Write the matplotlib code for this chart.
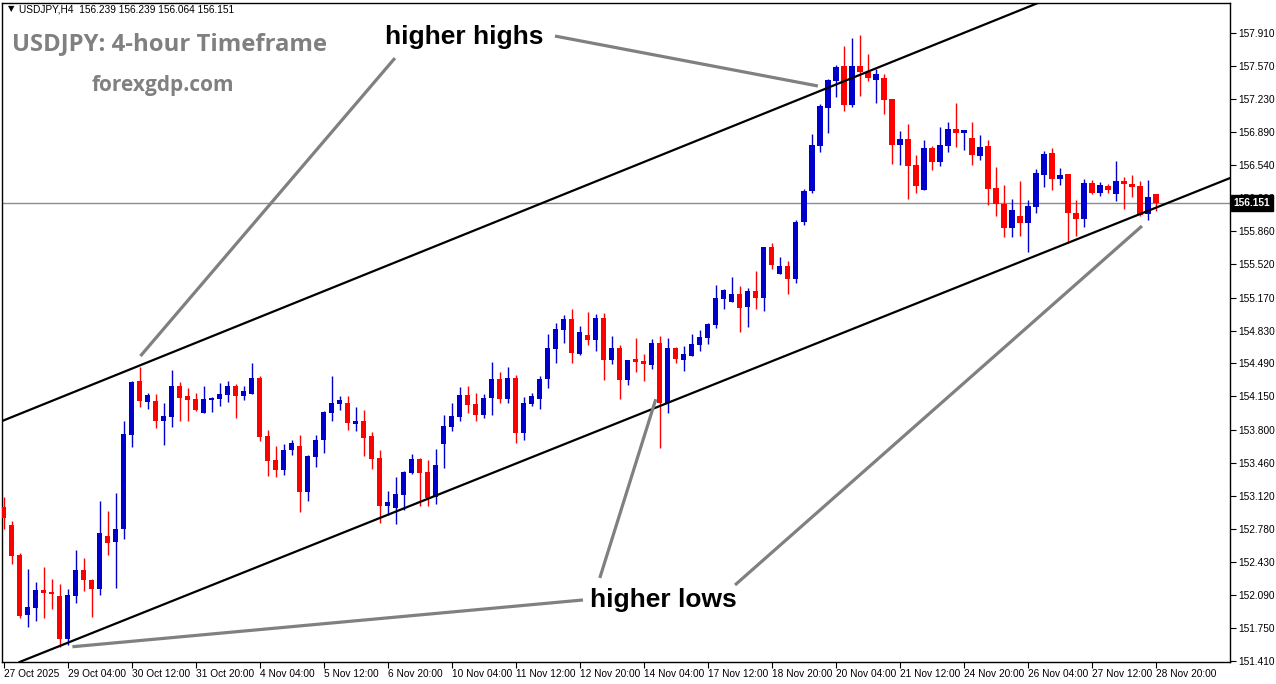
import numpy as np
import matplotlib
matplotlib.use("Agg")
import matplotlib.pyplot as plt

# USDJPY H4 candles (index 0 = first bar)
opens = [
    153.005, 152.818, 152.508, 151.887, 151.959, 152.145, 152.125, 152.083, 151.638, 152.083,
    152.352, 152.249, 152.156, 152.704, 152.642, 152.777, 153.750, 154.308, 154.091, 154.102,
    153.895, 153.936, 154.257, 154.153, 154.122, 153.977, 154.112, 154.122, 154.164, 154.257,
    154.153, 154.174, 154.340, 153.739, 153.491, 153.387, 153.594, 153.636, 153.160, 153.522,
    153.698, 153.977, 154.071, 154.081, 153.864, 153.895, 153.739, 153.512, 153.015, 152.994,
    153.129, 153.356, 153.501, 153.367, 153.108, 153.657, 153.833, 153.936, 154.164, 154.071,
    153.957, 154.133, 154.329, 154.122, 154.340, 153.770, 154.071, 154.122, 154.329, 154.640,
    154.836, 154.950, 154.588, 154.785, 154.733, 154.961, 154.526, 154.650, 154.319, 154.536,
    154.516, 154.474, 154.702, 154.081, 154.650, 154.526, 154.567, 154.681, 154.754, 154.888,
    155.157, 155.126, 155.209, 155.074, 155.240, 155.168, 155.696, 155.416, 155.499, 155.364,
    155.954, 156.275, 156.741, 157.134, 157.414, 157.569, 157.165, 157.569, 157.507, 157.424,
    157.445, 157.227, 156.751, 156.813, 156.544, 156.285, 156.720, 156.575, 156.741, 156.917,
    156.875, 156.824, 156.637, 156.741, 156.306, 156.140, 155.892, 156.016, 155.943, 156.109,
    156.440, 156.668, 156.399, 156.451, 156.047, 155.985, 156.358, 156.254, 156.327, 156.244,
    156.379, 156.347, 156.327, 156.037, 156.239]
highs = [
    153.108, 152.860, 152.528, 152.363, 152.228, 152.384, 152.259, 152.208, 152.156, 152.559,
    152.477, 152.259, 153.067, 152.963, 153.149, 153.895, 154.308, 154.454, 154.184, 154.174,
    154.081, 154.422, 154.298, 154.236, 154.184, 154.257, 154.143, 154.288, 154.308, 154.278,
    154.257, 154.495, 154.360, 153.801, 153.636, 153.657, 153.698, 153.750, 153.543, 153.750,
    153.998, 154.360, 154.153, 154.153, 154.040, 154.008, 153.781, 153.594, 153.170, 153.315,
    153.377, 153.553, 153.512, 153.491, 153.605, 153.957, 154.081, 154.247, 154.257, 154.184,
    154.174, 154.505, 154.402, 154.454, 154.371, 154.143, 154.184, 154.360, 154.795, 154.909,
    154.992, 155.054, 154.878, 155.023, 155.002, 155.012, 154.774, 154.681, 154.526, 154.754,
    154.588, 154.743, 154.774, 154.754, 154.660, 154.671, 154.795, 154.836, 154.909, 155.302,
    155.261, 155.385, 155.292, 155.271, 155.447, 155.696, 155.737, 155.592, 155.551, 155.975,
    156.296, 156.865, 157.175, 157.434, 157.579, 157.776, 157.859, 157.890, 157.693, 157.538,
    157.486, 157.227, 156.896, 156.968, 156.648, 156.803, 156.741, 156.937, 156.989, 157.186,
    156.906, 156.989, 156.855, 156.803, 156.523, 156.337, 156.192, 156.379, 156.182, 156.503,
    156.689, 156.720, 156.513, 156.451, 156.182, 156.399, 156.389, 156.368, 156.347, 156.585,
    156.420, 156.440, 156.379, 156.389, 156.239]
lows = [
    152.777, 152.415, 151.856, 151.763, 151.825, 151.856, 151.949, 151.556, 151.576, 152.011,
    152.135, 151.866, 152.094, 152.508, 152.166, 152.673, 153.626, 154.040, 154.019, 153.822,
    153.646, 153.833, 153.895, 153.895, 153.998, 153.977, 153.988, 154.050, 154.091, 153.926,
    154.112, 154.174, 153.688, 153.325, 153.315, 153.336, 153.543, 152.953, 153.067, 153.419,
    153.563, 153.895, 154.008, 153.801, 153.791, 153.532, 153.398, 152.839, 152.922, 152.829,
    152.973, 153.346, 153.015, 153.015, 153.036, 153.408, 153.791, 153.895, 153.977, 153.895,
    153.926, 153.957, 154.081, 154.081, 153.667, 153.698, 154.050, 154.019, 154.236, 154.495,
    154.702, 154.495, 154.578, 154.681, 154.619, 154.319, 154.485, 154.122, 154.267, 154.402,
    154.308, 154.433, 153.615, 153.977, 154.495, 154.412, 154.567, 154.619, 154.691, 154.857,
    155.054, 155.126, 154.816, 154.867, 155.054, 155.033, 155.468, 155.416, 155.209, 155.323,
    155.923, 156.254, 156.679, 156.875, 157.248, 157.103, 157.144, 157.258, 157.414, 157.186,
    157.072, 156.554, 156.544, 156.192, 156.254, 156.285, 156.492, 156.534, 156.679, 156.730,
    156.699, 156.544, 156.596, 156.130, 156.016, 155.798, 155.798, 155.809, 155.643, 156.047,
    156.316, 156.285, 156.337, 155.736, 155.809, 155.902, 156.244, 156.223, 156.254, 156.171,
    156.089, 156.213, 156.016, 155.975, 156.064]
closes = [
    152.890, 152.497, 151.876, 151.970, 152.145, 152.114, 152.104, 151.638, 152.094, 152.352,
    152.249, 152.156, 152.735, 152.632, 152.777, 153.760, 154.298, 154.102, 154.164, 153.895,
    153.946, 154.257, 154.133, 154.112, 154.008, 154.122, 154.133, 154.174, 154.257, 154.153,
    154.205, 154.340, 153.729, 153.481, 153.387, 153.594, 153.667, 153.160, 153.532, 153.698,
    153.988, 154.081, 154.112, 153.874, 153.895, 153.719, 153.501, 153.015, 153.056, 153.139,
    153.367, 153.501, 153.356, 153.098, 153.439, 153.843, 153.946, 154.164, 154.060, 153.957,
    154.133, 154.329, 154.122, 154.340, 153.770, 154.081, 154.153, 154.329, 154.650, 154.847,
    154.950, 154.598, 154.816, 154.733, 154.961, 154.526, 154.650, 154.319, 154.526, 154.505,
    154.485, 154.702, 154.081, 154.650, 154.536, 154.588, 154.691, 154.764, 154.898, 155.168,
    155.250, 155.209, 155.064, 155.240, 155.168, 155.696, 155.509, 155.499, 155.364, 155.954,
    156.275, 156.751, 157.155, 157.424, 157.558, 157.165, 157.569, 157.507, 157.445, 157.486,
    157.217, 156.751, 156.813, 156.534, 156.327, 156.720, 156.575, 156.751, 156.917, 156.875,
    156.906, 156.648, 156.730, 156.296, 156.140, 155.892, 156.078, 155.943, 156.120, 156.461,
    156.658, 156.399, 156.440, 156.047, 155.985, 156.358, 156.254, 156.337, 156.285, 156.379,
    156.347, 156.316, 156.027, 156.213, 156.151]

date_labels = ["27 Oct 2025", "29 Oct 04:00", "30 Oct 12:00", "31 Oct 20:00", "4 Nov 04:00",
               "5 Nov 12:00", "6 Nov 20:00", "10 Nov 04:00", "11 Nov 12:00", "12 Nov 20:00",
               "14 Nov 04:00", "17 Nov 12:00", "18 Nov 20:00", "20 Nov 04:00", "21 Nov 12:00",
               "24 Nov 20:00", "26 Nov 04:00", "27 Nov 12:00", "28 Nov 20:00"]
price_ticks = [157.910, 157.570, 157.230, 156.890, 156.540, 156.200, 155.860, 155.520, 155.170,
               154.830, 154.490, 154.150, 153.800, 153.460, 153.120, 152.780, 152.430, 152.090,
               151.750, 151.410]
last_price = 156.151

# channel lines (two anchor points each, bar index / price)
upper_channel = [(-0.5, 153.884), (129.25, 158.221)]
lower_channel = [(2.0, 151.400), (153.25, 156.409)]

# grey pointer lines for the notes
pointers = [
    [(48.9, 157.651), (17.1, 154.567)],
    [(68.9, 157.879), (101.75, 157.362)],
    [(74.5, 152.270), (81.5, 154.120)],
    [(72.4, 152.042), (8.6, 151.558)],
    [(91.4, 152.197), (142.25, 155.913)],
]

W, H = 1276, 684
fig = plt.figure(figsize=(W / 100, H / 100), dpi=100)
fig.patch.set_facecolor("white")
ax = fig.add_axes([2 / W, 22 / H, 1228 / W, 659 / H])

o = np.array(opens)
c = np.array(closes)
idx = np.arange(len(o))
up = c >= o
cols = np.where(up, "#0000cd", "#ff0000")

ax.vlines(idx, lows, highs, colors=cols, linewidth=1.0, zorder=2)
body = np.maximum(np.abs(c - o), 0.012)
ax.bar(idx, body, bottom=np.minimum(o, c), width=0.66, color=cols, linewidth=0, zorder=3)

ax.axhline(last_price, color="#8c8c8c", lw=1.0, zorder=1)
ax.axline(upper_channel[0], upper_channel[1], color="black", lw=1.6, zorder=4)
ax.axline(lower_channel[0], lower_channel[1], color="black", lw=1.6, zorder=4)

for p in pointers:
    xs, ys = zip(*p)
    ax.plot(xs, ys, color="#808080", lw=2.3, solid_capstyle="butt", zorder=5)

ax.text(47.6, 157.869, "higher highs", fontsize=19, fontweight="bold",
        family="Liberation Sans", va="center", ha="left", zorder=6)
ax.text(73.25, 152.042, "higher lows", fontsize=19, fontweight="bold",
        family="Liberation Sans", va="center", ha="left", zorder=6)

ax.set_xlim(-0.2, 153.25)
ax.set_ylim(151.40, 158.221)

ax.set_xticks(np.arange(len(date_labels)) * 8)
ax.set_xticklabels(date_labels, ha="left", fontsize=7.3, family="Liberation Sans")
ax.yaxis.tick_right()
ax.set_yticks(price_ticks)
ax.set_yticklabels([f"{v:.3f}" for v in price_ticks], fontsize=7.3, family="Liberation Sans")
ax.tick_params(axis="x", length=4, width=0.8, pad=1)
ax.tick_params(axis="y", length=4, width=0.8, pad=2)
for s in ax.spines.values():
    s.set_color("black")
    s.set_linewidth(1.0)

ax.text(1.003, last_price, f"{last_price:.3f}", transform=ax.get_yaxis_transform(),
        color="white", fontsize=7.3, fontweight="bold", family="Liberation Sans",
        va="center", ha="left",
        bbox=dict(boxstyle="square,pad=0.25", fc="black", ec="black"), zorder=10, clip_on=False)

fig.text(8 / W, 1 - 9 / H, "\u25bc", fontsize=6, va="center", ha="left")
fig.text(19 / W, 1 - 9 / H, "USDJPY,H4  156.239 156.239 156.064 156.151",
         fontsize=7.3, family="Liberation Sans", va="center", ha="left")
fig.text(12 / W, 1 - 44 / H, "USDJPY: 4-hour Timeframe", fontsize=17.2, fontweight="bold",
         family="Open Sans", color="#808080", va="center", ha="left")
fig.text(92 / W, 1 - 85 / H, "forexgdp.com", fontsize=15, fontweight="bold",
         family="Open Sans", color="#808080", va="center", ha="left")

fig.savefig("out.png", dpi=100)
